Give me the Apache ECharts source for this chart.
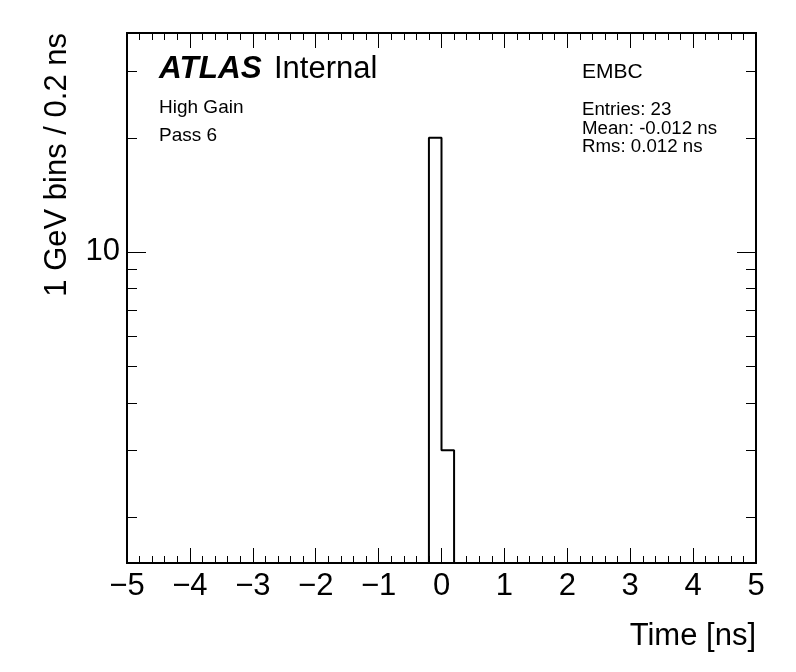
<!DOCTYPE html>
<html>
<head>
<meta charset="utf-8">
<script src="https://cdn.jsdelivr.net/npm/echarts@6/dist/echarts.min.js"></script>
<style>
  html, body { margin: 0; padding: 0; background: #fff; }
  #chart { width: 796px; height: 672px; }
</style>
</head>
<body>
<div id="chart"></div>
<script>
const FONT = '"Liberation Sans", Arial, Helvetica, sans-serif';

// histogram: 0.2 ns bins, only the filled ones
const binStart = [-0.2, 0.0];
const binCount = [20, 3];
const binWidth = 0.2;

const xRange = [-5, 5];
const yRange = [1.512, 37.8];
const yMajorTicks = [10];
const yMinorTicks = [2, 3, 4, 5, 6, 7, 8, 9, 20, 30];

const statLines = ['Entries: 23', 'Mean: -0.012 ns', 'Rms: 0.012 ns'];

// step outline of the histogram, ROOT style
const outline = [];
let prev = yRange[0];
binStart.forEach((lo, i) => {
  const hi = lo + binWidth;
  outline.push([lo, prev], [lo, binCount[i]], [hi, binCount[i]]);
  prev = binCount[i];
});
outline.push([binStart[binStart.length - 1] + binWidth, yRange[0]]);

const minus = v => (v < 0 ? '\u2212' + (-v) : String(v));

const frameLine = { show: true, onZero: false, lineStyle: { color: '#000', width: 2 } };

function xAx(pos, labels) {
  return {
    type: 'value', position: pos, min: xRange[0], max: xRange[1], interval: 1,
    axisLine: frameLine,
    axisTick: { show: true, inside: true, length: 15, lineStyle: { color: '#000', width: 1 } },
    minorTick: { show: true, splitNumber: 5, length: 7, lineStyle: { color: '#000', width: 1 } },
    axisLabel: labels ? { show: true, fontSize: 31, fontFamily: FONT, color: '#000', margin: 8, formatter: minus } : { show: false },
    splitLine: { show: false }
  };
}

function yAx(pos, ticks, len, labels) {
  return {
    type: 'log', logBase: 10, position: pos, min: yRange[0], max: yRange[1],
    axisLine: frameLine,
    axisTick: { show: true, inside: true, length: len, customValues: ticks, lineStyle: { color: '#000', width: 1 } },
    axisLabel: labels ? { show: true, customValues: ticks, fontSize: 31, fontFamily: FONT, color: '#000', margin: 7 } : { show: false },
    splitLine: { show: false }
  };
}

const chart = echarts.init(document.getElementById('chart'));

const textEls = [
  { x: 159, y: 69.5, text: 'ATLAS', size: 31.5, weight: 'bold', style: 'italic' },
  { x: 274, y: 69.5, text: 'Internal', size: 31 },
  { x: 159, y: 107.5, text: 'High Gain', size: 19 },
  { x: 159, y: 136, text: 'Pass 6', size: 19 },
  { x: 582, y: 72.5, text: 'EMBC', size: 21 }
].concat(statLines.map((t, i) => ({ x: 582, y: 110 + i * 18.6, text: t, size: 18.7 })));

chart.setOption({
  animation: false,
  backgroundColor: '#fff',
  grid: { left: 127, right: 40, top: 33, bottom: 109, containLabel: false },
  xAxis: [
    Object.assign(xAx('bottom', true), {
      name: 'Time [ns]', nameLocation: 'end', nameGap: 0,
      nameTextStyle: { fontSize: 31, fontFamily: FONT, color: '#000', align: 'right', verticalAlign: 'top', padding: [58, 0, 0, 0] }
    }),
    xAx('top', false)
  ],
  yAxis: [
    yAx('left', yMajorTicks, 19, true),
    yAx('left', yMinorTicks, 10, false),
    yAx('right', yMajorTicks, 19, false),
    yAx('right', yMinorTicks, 10, false)
  ],
  series: [{
    type: 'line',
    xAxisIndex: 0,
    yAxisIndex: 0,
    data: outline,
    showSymbol: false,
    lineStyle: { color: '#000', width: 2 },
    z: 5
  }],
  graphic: textEls.map(t => ({
    type: 'text', x: t.x, y: t.y,
    style: {
      text: t.text, fill: '#000', verticalAlign: 'middle', align: 'left',
      font: (t.style || 'normal') + ' ' + (t.weight || 'normal') + ' ' + t.size + 'px ' + FONT
    }
  })).concat([{
    type: 'text', x: 57, y: 33, rotation: Math.PI / 2,
    style: {
      text: '1 GeV bins / 0.2 ns', fill: '#000', align: 'right', verticalAlign: 'middle',
      font: 'normal normal 31px ' + FONT
    }
  }])
});
</script>
</body>
</html>
